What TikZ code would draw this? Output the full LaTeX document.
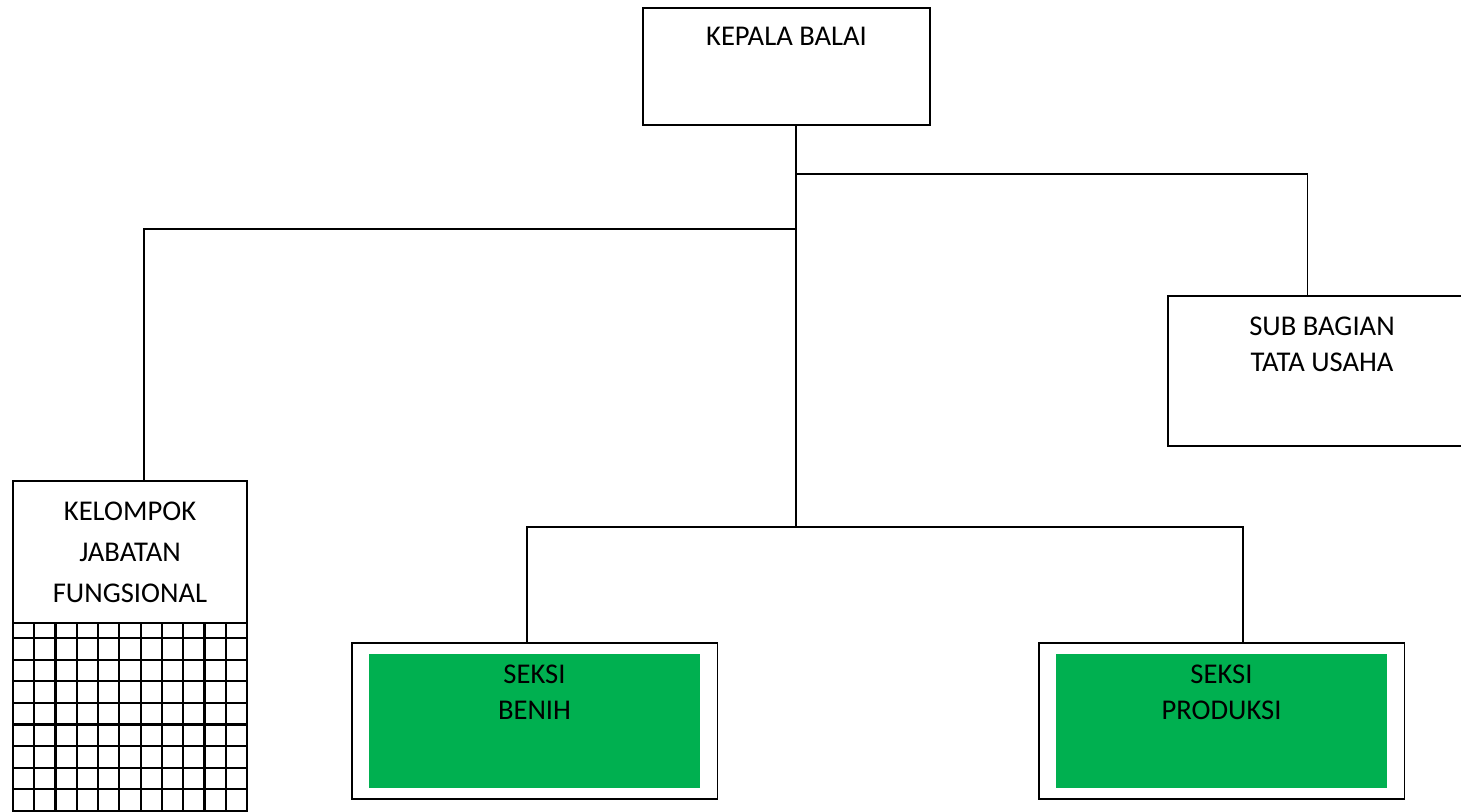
\documentclass[tikz,border=0pt]{standalone}
\usepackage{fontspec}
\setmainfont{Carlito}
\usepackage{xcolor}
\usepackage{tikz}
\usetikzlibrary{positioning,fit,calc}
\definecolor{seksigreen}{HTML}{00B050}
\newcommand{\orgfont}{\fontsize{14.3}{18}\selectfont}

\begin{document}
\begin{tikzpicture}[
    x=0.5pt, y=-0.5pt,
    unitbox/.style={rectangle, draw, line width=0.9pt, inner sep=0pt},
    heading/.style={anchor=north, align=center, font=\orgfont, inner sep=0pt},
    seksibox/.style={rectangle, fill=seksigreen, inner sep=0pt, minimum width=165.5pt, minimum height=67pt},
    frame/.style={rectangle, draw, line width=0.9pt, inner xsep=8.5pt, inner ysep=5.25pt},
    gridline/.style={line width=1.1pt},
    link/.style={line width=0.7pt}
  ]
    \useasboundingbox (0,0) rectangle (1461,811);

    \node[unitbox, minimum width=143.5pt, minimum height=58.5pt,
      label={[heading, yshift=-10pt]north:KEPALA BALAI}] (kepala) at (786.5,66.5) {};
    \node[unitbox, minimum width=154pt, minimum height=75pt,
      label={[heading, yshift=-10.5pt]north:SUB BAGIAN\\TATA USAHA}] (tatausaha) at (1322,371) {};
    \node[unitbox, minimum width=117pt, minimum height=71pt, align=center,
      font=\fontsize{14.3}{20.5}\selectfont] (kelompok) at (130,552) {KELOMPOK\\JABATAN\\FUNGSIONAL};

    \node[seksibox, label={[heading, yshift=-5.5pt]north:SEKSI\\BENIH}] (benih) at (534.5,721) {};
    \node[frame, fit=(benih)] (benihframe) {};
    \node[seksibox, label={[heading, yshift=-5.5pt]north:SEKSI\\PRODUKSI}] (produksi) at (1221.5,721) {};
    \node[frame, fit=(produksi)] (produksiframe) {};

    \foreach \i in {0,...,11}
      \draw[gridline] ({13+21.27*\i},623) -- ({13+21.27*\i},815);
    \foreach \j in {0,...,8}
      \draw[gridline] (13,{638+21.6*\j}) -- (247,{638+21.6*\j});

    \coordinate (trunk) at (796,527);
    \coordinate (tujoint) at (1307.5,174);
    \coordinate (kfjoint) at (144,229);
    \coordinate (bnjoint) at (527,527);
    \coordinate (prjoint) at (1243,527);

    \draw[link] (trunk |- kepala.south) -- (trunk);
    \draw[link] (trunk |- tujoint) -- (tujoint) -- (tujoint |- tatausaha.north);
    \draw[link] (trunk |- kfjoint) -- (kfjoint) -- (kfjoint |- kelompok.north);
    \draw[link] (bnjoint |- benihframe.north) -- (bnjoint) -- (prjoint) -- (prjoint |- produksiframe.north);
  \end{tikzpicture}
\end{document}
